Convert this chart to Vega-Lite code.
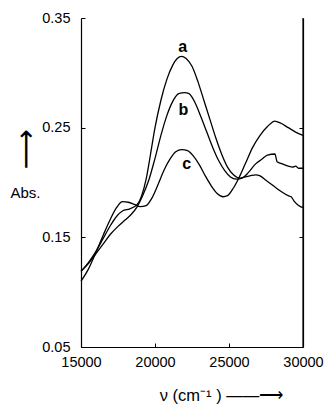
{
  "$schema": "https://vega.github.io/schema/vega-lite/v6.json",
  "width": 222,
  "height": 329,
  "autosize": {"type": "none"},
  "padding": {"left": 81, "top": 18, "right": 23, "bottom": 60},
  "background": "white",
  "config": {
    "view": {"stroke": null},
    "font": "Liberation Sans",
    "axis": {"domainColor": "#000", "tickColor": "#000", "labelColor": "#000", "titleColor": "#000", "grid": false, "labelFont": "Liberation Sans", "titleFont": "Liberation Sans", "labelFontSize": 14.5, "titleFontWeight": "normal", "domainWidth": 1.2, "tickWidth": 1, "labelFlush": false}
  },
  "datasets": {
    "spectra": [
      {"nu": 15000, "abs": 0.119, "s": "a"}, {"nu": 15500, "abs": 0.127, "s": "a"}, {"nu": 16000, "abs": 0.137, "s": "a"}, {"nu": 16500, "abs": 0.149, "s": "a"}, {"nu": 17000, "abs": 0.161, "s": "a"}, {"nu": 17400, "abs": 0.169, "s": "a"}, {"nu": 17800, "abs": 0.174, "s": "a"}, {"nu": 18300, "abs": 0.176, "s": "a"}, {"nu": 18800, "abs": 0.180, "s": "a"}, {"nu": 19100, "abs": 0.188, "s": "a"}, {"nu": 19400, "abs": 0.203, "s": "a"}, {"nu": 19700, "abs": 0.226, "s": "a"}, {"nu": 20000, "abs": 0.250, "s": "a"}, {"nu": 20400, "abs": 0.275, "s": "a"}, {"nu": 20800, "abs": 0.294, "s": "a"}, {"nu": 21200, "abs": 0.307, "s": "a"}, {"nu": 21500, "abs": 0.313, "s": "a"}, {"nu": 21800, "abs": 0.315, "s": "a"}, {"nu": 22100, "abs": 0.313, "s": "a"}, {"nu": 22500, "abs": 0.306, "s": "a"}, {"nu": 22900, "abs": 0.292, "s": "a"}, {"nu": 23300, "abs": 0.275, "s": "a"}, {"nu": 23700, "abs": 0.258, "s": "a"}, {"nu": 24100, "abs": 0.241, "s": "a"}, {"nu": 24500, "abs": 0.226, "s": "a"}, {"nu": 24900, "abs": 0.214, "s": "a"}, {"nu": 25300, "abs": 0.207, "s": "a"}, {"nu": 25700, "abs": 0.204, "s": "a"}, {"nu": 26000, "abs": 0.205, "s": "a"}, {"nu": 26400, "abs": 0.206, "s": "a"}, {"nu": 26800, "abs": 0.207, "s": "a"}, {"nu": 27100, "abs": 0.206, "s": "a"}, {"nu": 27500, "abs": 0.202, "s": "a"}, {"nu": 28000, "abs": 0.197, "s": "a"}, {"nu": 28500, "abs": 0.192, "s": "a"}, {"nu": 29000, "abs": 0.188, "s": "a"}, {"nu": 29200, "abs": 0.187, "s": "a"}, {"nu": 29400, "abs": 0.183, "s": "a"}, {"nu": 29700, "abs": 0.179, "s": "a"}, {"nu": 30000, "abs": 0.177, "s": "a"},
      {"nu": 15000, "abs": 0.119, "s": "b"}, {"nu": 15500, "abs": 0.126, "s": "b"}, {"nu": 16000, "abs": 0.135, "s": "b"}, {"nu": 16500, "abs": 0.144, "s": "b"}, {"nu": 17000, "abs": 0.153, "s": "b"}, {"nu": 17500, "abs": 0.160, "s": "b"}, {"nu": 18000, "abs": 0.166, "s": "b"}, {"nu": 18400, "abs": 0.171, "s": "b"}, {"nu": 18800, "abs": 0.178, "s": "b"}, {"nu": 19200, "abs": 0.189, "s": "b"}, {"nu": 19600, "abs": 0.203, "s": "b"}, {"nu": 20000, "abs": 0.222, "s": "b"}, {"nu": 20400, "abs": 0.243, "s": "b"}, {"nu": 20800, "abs": 0.261, "s": "b"}, {"nu": 21200, "abs": 0.274, "s": "b"}, {"nu": 21600, "abs": 0.281, "s": "b"}, {"nu": 22000, "abs": 0.282, "s": "b"}, {"nu": 22300, "abs": 0.281, "s": "b"}, {"nu": 22700, "abs": 0.273, "s": "b"}, {"nu": 23100, "abs": 0.260, "s": "b"}, {"nu": 23500, "abs": 0.246, "s": "b"}, {"nu": 23900, "abs": 0.232, "s": "b"}, {"nu": 24300, "abs": 0.220, "s": "b"}, {"nu": 24700, "abs": 0.211, "s": "b"}, {"nu": 25100, "abs": 0.205, "s": "b"}, {"nu": 25500, "abs": 0.203, "s": "b"}, {"nu": 25900, "abs": 0.204, "s": "b"}, {"nu": 26300, "abs": 0.209, "s": "b"}, {"nu": 26800, "abs": 0.217, "s": "b"}, {"nu": 27200, "abs": 0.221, "s": "b"}, {"nu": 27600, "abs": 0.225, "s": "b"}, {"nu": 28100, "abs": 0.226, "s": "b"}, {"nu": 28250, "abs": 0.219, "s": "b"}, {"nu": 28600, "abs": 0.217, "s": "b"}, {"nu": 29000, "abs": 0.215, "s": "b"}, {"nu": 29300, "abs": 0.214, "s": "b"}, {"nu": 29500, "abs": 0.215, "s": "b"}, {"nu": 29700, "abs": 0.213, "s": "b"}, {"nu": 30000, "abs": 0.213, "s": "b"},
      {"nu": 15000, "abs": 0.110, "s": "c"}, {"nu": 15500, "abs": 0.121, "s": "c"}, {"nu": 16000, "abs": 0.136, "s": "c"}, {"nu": 16500, "abs": 0.152, "s": "c"}, {"nu": 17000, "abs": 0.167, "s": "c"}, {"nu": 17400, "abs": 0.177, "s": "c"}, {"nu": 17800, "abs": 0.1825, "s": "c"}, {"nu": 18200, "abs": 0.182, "s": "c"}, {"nu": 18600, "abs": 0.180, "s": "c"}, {"nu": 19000, "abs": 0.178, "s": "c"}, {"nu": 19400, "abs": 0.179, "s": "c"}, {"nu": 19800, "abs": 0.186, "s": "c"}, {"nu": 20200, "abs": 0.198, "s": "c"}, {"nu": 20600, "abs": 0.211, "s": "c"}, {"nu": 21000, "abs": 0.221, "s": "c"}, {"nu": 21400, "abs": 0.228, "s": "c"}, {"nu": 21800, "abs": 0.230, "s": "c"}, {"nu": 22200, "abs": 0.229, "s": "c"}, {"nu": 22600, "abs": 0.224, "s": "c"}, {"nu": 23000, "abs": 0.216, "s": "c"}, {"nu": 23400, "abs": 0.206, "s": "c"}, {"nu": 23800, "abs": 0.197, "s": "c"}, {"nu": 24200, "abs": 0.190, "s": "c"}, {"nu": 24600, "abs": 0.187, "s": "c"}, {"nu": 24900, "abs": 0.188, "s": "c"}, {"nu": 25300, "abs": 0.195, "s": "c"}, {"nu": 25700, "abs": 0.205, "s": "c"}, {"nu": 26100, "abs": 0.217, "s": "c"}, {"nu": 26600, "abs": 0.232, "s": "c"}, {"nu": 27100, "abs": 0.243, "s": "c"}, {"nu": 27600, "abs": 0.251, "s": "c"}, {"nu": 28100, "abs": 0.256, "s": "c"}, {"nu": 28500, "abs": 0.254, "s": "c"}, {"nu": 29000, "abs": 0.250, "s": "c"}, {"nu": 29500, "abs": 0.246, "s": "c"}, {"nu": 30000, "abs": 0.243, "s": "c"}
    ],
    "labels": [
      {"nu": 21870, "abs": 0.324, "s": "a"},
      {"nu": 21910, "abs": 0.266, "s": "b"},
      {"nu": 22140, "abs": 0.217, "s": "c"}
    ]
  },
  "layer": [
    {
      "data": {"name": "spectra"},
      "mark": {"type": "line", "color": "#000", "strokeWidth": 1.3, "interpolate": "monotone"},
      "encoding": {
        "x": {"field": "nu", "type": "quantitative", "scale": {"domain": [15000, 30000], "nice": false},
          "axis": {"values": [15000, 20000, 25000, 30000], "format": "d", "tickSize": -4, "labelPadding": 12, "title": "ν  (cm⁻¹ )  ——⟶", "titleFontSize": 16.5, "titleX": 140, "titleY": 48, "titleBaseline": "middle", "titleAlign": "center"}},
        "y": {"field": "abs", "type": "quantitative", "scale": {"domain": [0.05, 0.35], "nice": false, "zero": false},
          "axis": {"values": [0.05, 0.15, 0.25, 0.35], "format": ".2f", "tickSize": -4, "labelPadding": 15, "title": "⟶", "titleAngle": -90, "titleFontSize": 28, "titleX": -55, "titleY": 131, "titleAlign": "center", "titleBaseline": "middle", "titleFont": "DejaVu Sans"}},
        "detail": {"field": "s", "type": "nominal"}
      }
    },
    {
      "data": {"name": "labels"},
      "mark": {"type": "text", "fontSize": 16, "fontWeight": "bold", "color": "#000", "font": "Liberation Sans"},
      "encoding": {
        "x": {"field": "nu", "type": "quantitative"},
        "y": {"field": "abs", "type": "quantitative", "axis": {"orient": "right", "domain": true, "ticks": true, "values": [0.15, 0.25], "labels": false, "tickSize": -4, "title": "Abs.", "titleAngle": 0, "titleFontSize": 15, "titleX": -278, "titleY": 174, "titleAlign": "center", "titleBaseline": "middle"}},
        "text": {"field": "s", "type": "nominal"}
      }
    },
    {
      "data": {"values": [{"edge": 30000}]},
      "mark": {"type": "rule", "color": "#000", "strokeWidth": 1.2},
      "encoding": {"x": {"field": "edge", "type": "quantitative"}}
    }
  ],
  "resolve": {"axis": {"y": "independent"}}
}
